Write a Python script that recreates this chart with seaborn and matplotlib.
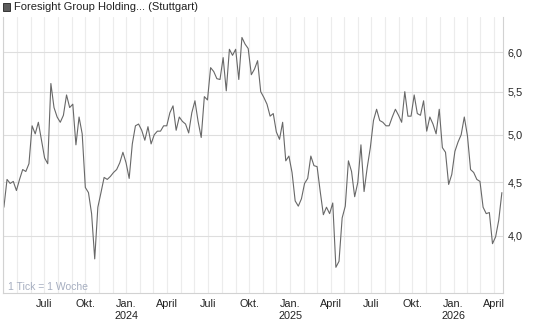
import numpy as np
import pandas as pd
import matplotlib
matplotlib.use("Agg")
import matplotlib.pyplot as plt
import matplotlib.dates as mdates
import matplotlib.ticker as mticker
from matplotlib.patches import Rectangle
import seaborn as sns

# ---- data (weekly closing prices) ----
start_date = "2023-04-02"
prices = [
    4.26, 4.53, 4.49, 4.51, 4.42, 4.53, 4.63, 4.61, 4.69, 5.10,
    5.01, 5.14, 4.94, 4.75, 4.69, 5.60, 5.31, 5.20, 5.14, 5.22,
    5.46, 5.31, 5.35, 4.89, 5.20, 5.01, 4.45, 4.40, 4.20, 3.80,
    4.26, 4.40, 4.55, 4.53, 4.56, 4.60, 4.63, 4.70, 4.81, 4.70,
    4.54, 4.90, 5.10, 5.12, 5.05, 4.94, 5.09, 4.90, 5.00, 5.04,
    5.04, 5.10, 5.10, 5.25, 5.33, 5.05, 5.20, 5.15, 5.12, 5.02,
    5.25, 5.39, 5.15, 4.97, 5.44, 5.40, 5.80, 5.75, 5.66, 5.65,
    5.93, 5.51, 6.04, 5.96, 6.04, 5.65, 6.20, 6.11, 6.05, 5.71,
    5.78, 5.89, 5.50, 5.43, 5.35, 5.21, 5.24, 5.03, 4.95, 5.14,
    4.72, 4.77, 4.60, 4.32, 4.27, 4.34, 4.49, 4.54, 4.77, 4.67,
    4.66, 4.41, 4.19, 4.26, 4.20, 4.30, 3.73, 3.78, 4.16, 4.27,
    4.72, 4.61, 4.36, 4.50, 4.89, 4.41, 4.65, 4.86, 5.16, 5.29,
    5.16, 5.14, 5.10, 5.10, 5.20, 5.29, 5.22, 5.14, 5.50, 5.21,
    5.21, 5.46, 5.24, 5.22, 5.39, 5.04, 5.20, 5.12, 5.01, 5.29,
    4.86, 4.81, 4.48, 4.58, 4.82, 4.92, 5.00, 5.20, 4.99, 4.63,
    4.60, 4.53, 4.51, 4.26, 4.20, 4.21, 3.93, 3.99, 4.14, 4.40,
]
y_ticks = [4.0, 4.5, 5.0, 5.5, 6.0]
y_tick_labels = ["4,0", "4,5", "5,0", "5,5", "6,0"]
x_tick_dates = ["2023-07-01", "2023-10-01", "2024-01-01", "2024-04-01",
                "2024-07-01", "2024-10-01", "2025-01-01", "2025-04-01",
                "2025-07-01", "2025-10-01", "2026-01-01", "2026-04-01"]
x_tick_labels = ["Juli", "Okt.", "Jan.\n2024", "April",
                 "Juli", "Okt.", "Jan.\n2025", "April",
                 "Juli", "Okt.", "Jan.\n2026", "April"]
title = "Foresight Group Holding... (Stuttgart)"
note = "1 Tick = 1 Woche"

df = pd.DataFrame({
    "date": pd.date_range(start_date, periods=len(prices), freq="7D"),
    "price": prices,
})

sns.set_style("white")
plt.rcParams["font.family"] = ["Liberation Sans", "DejaVu Sans"]

W, H = 545, 327
fig = plt.figure(figsize=(W / 100, H / 100), dpi=100)
ax = fig.add_axes([3 / W, 34 / H, 500 / W, 276 / H])

sns.lineplot(data=df, x="date", y="price", ax=ax, color="#686868",
             linewidth=0.8)

ax.set_yscale("log")
ax.set_ylim(3.524, 6.487)
ax.yaxis.set_major_locator(mticker.FixedLocator(y_ticks))
ax.yaxis.set_major_formatter(mticker.FixedFormatter(y_tick_labels))
ax.yaxis.set_minor_locator(mticker.NullLocator())
ax.yaxis.tick_right()
ax.tick_params(axis="y", which="both", length=0, pad=3.5, labelsize=7.8,
               labelcolor="#222222")

ax.set_xlim(pd.Timestamp("2023-03-31"), pd.Timestamp("2026-04-21 12:00"))
ax.xaxis.set_major_locator(mticker.FixedLocator(
    mdates.date2num(pd.to_datetime(x_tick_dates))))
ax.xaxis.set_major_formatter(mticker.FixedFormatter(x_tick_labels))
ax.xaxis.set_minor_locator(mdates.MonthLocator())
ax.tick_params(axis="x", which="both", length=2.5, width=0.6,
               color="#cccccc", pad=2.0, labelsize=7.8, labelcolor="#222222")

ax.set_xlabel("")
ax.set_ylabel("")
ax.grid(True, axis="x", which="both", color="#ececec", linewidth=0.8)
ax.grid(True, axis="y", which="major", color="#dedede", linewidth=0.8)
ax.set_axisbelow(True)

ax.spines["top"].set_visible(False)
for s in ("left", "right", "bottom"):
    ax.spines[s].set_color("#d2d2d2")
    ax.spines[s].set_linewidth(0.8)

fig.patches.append(Rectangle((3 / W, 1 - 10.5 / H), 7 / W, 7 / H,
                             transform=fig.transFigure, facecolor="#5c5c5c",
                             edgecolor="#222222", linewidth=0.6))
fig.text(14 / W, 1 - 7 / H, title, fontsize=8.0, color="#222222",
         va="center", ha="left")
fig.text(7.5 / W, 1 - 287 / H, note, fontsize=7.5, color="#a6aec0",
         va="center", ha="left")

fig.savefig("out.png", dpi=100)
